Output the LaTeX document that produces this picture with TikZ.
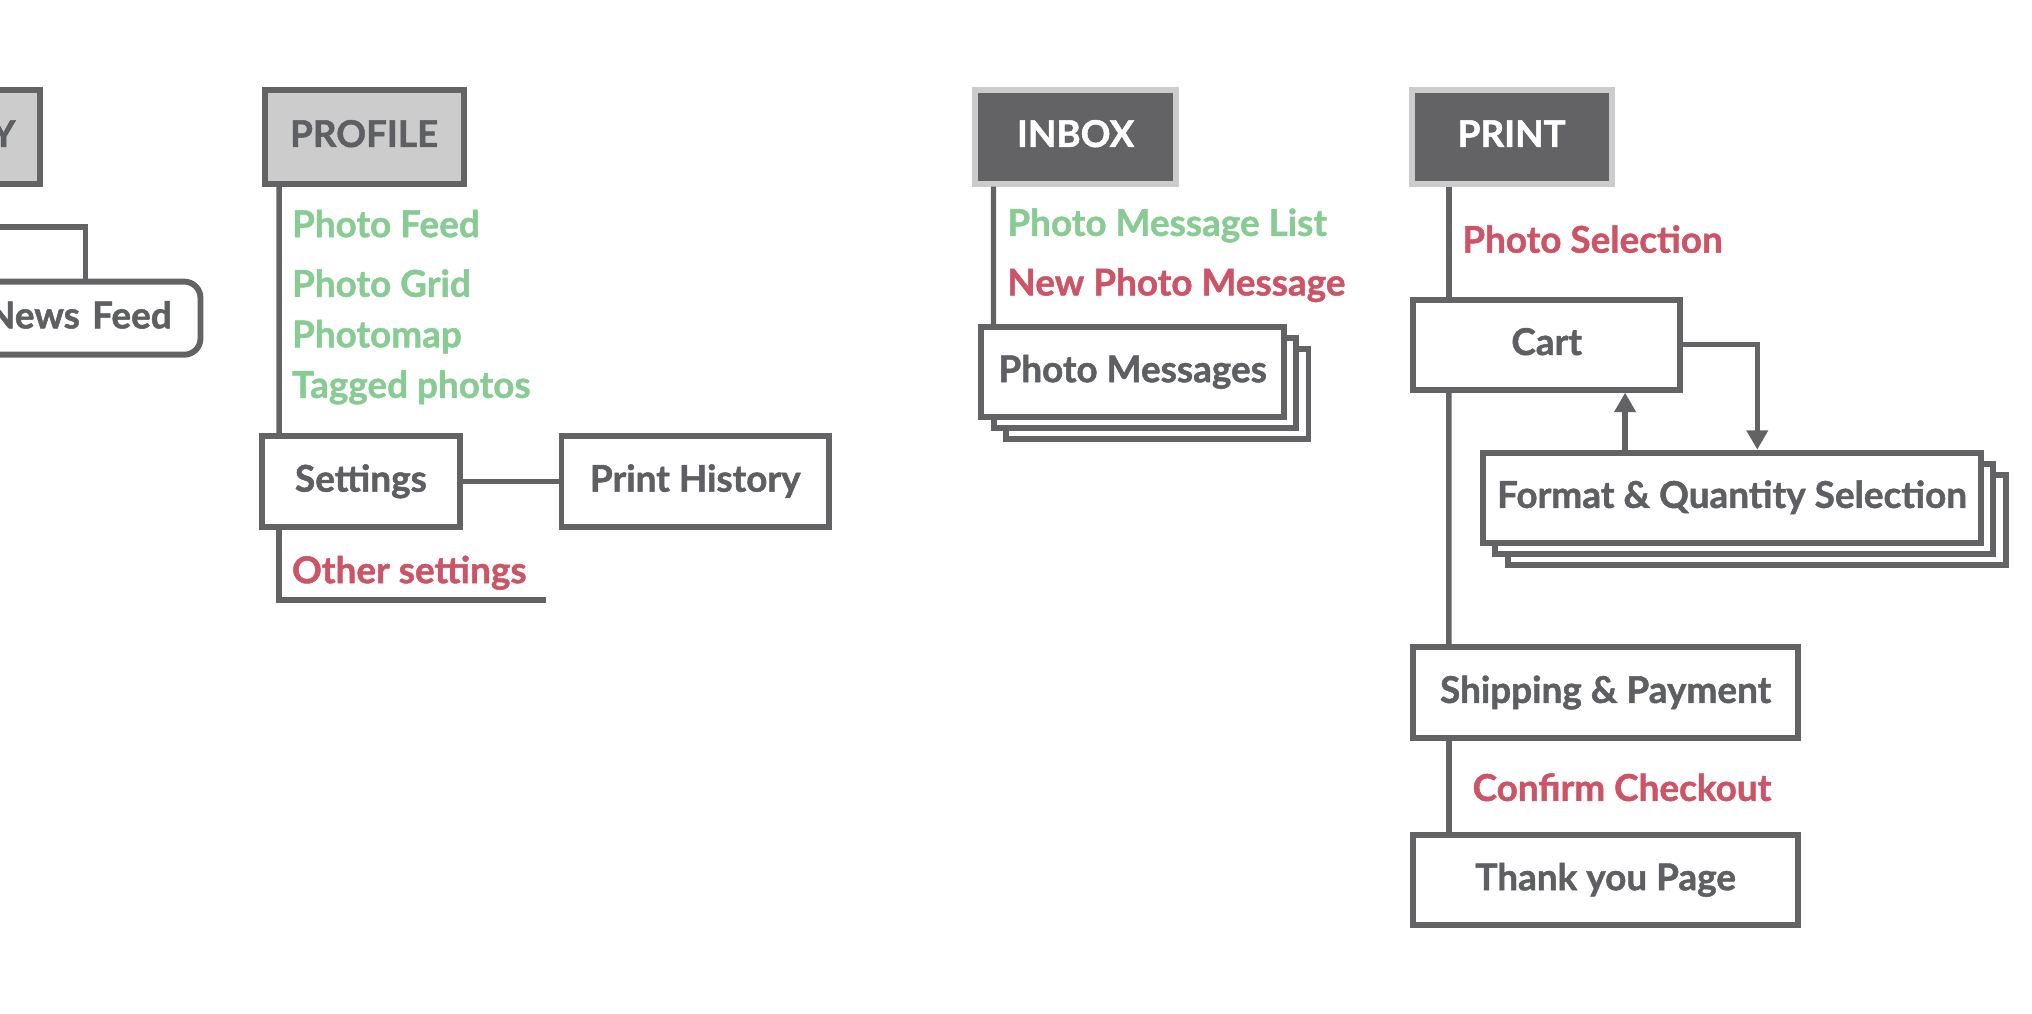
\documentclass[tikz,border=0pt]{standalone}
\usepackage{fontspec}
\setmainfont{Lato}[BoldFeatures={FakeBold=1.3}]
\usetikzlibrary{arrows.meta,shadows}

\definecolor{linegray}{HTML}{636366}
\definecolor{textgray}{HTML}{5E5F62}
\definecolor{framegray}{HTML}{CCCCCC}
\definecolor{okgreen}{HTML}{88CC94}
\definecolor{todored}{HTML}{CC5466}

\tikzset{
  titlebox/.style={draw=linegray,line width=2.6pt,fill=framegray,text=textgray,
    minimum height=1.448cm,inner sep=0pt,text height=0.9em,text depth=0pt},
  darktitle/.style={titlebox,draw=framegray,fill=linegray,text=white},
  pagebox/.style={draw=linegray,line width=2.6pt,fill=white,text=textgray,
    minimum height=1.388cm,inner sep=0pt,text height=0.9em,text depth=0pt},
  stackbox/.style={pagebox,
    copy shadow={shadow xshift=0.38cm,shadow yshift=-0.34cm,draw=linegray,fill=white,line width=2.6pt},
    copy shadow={shadow xshift=0.19cm,shadow yshift=-0.17cm,draw=linegray,fill=white,line width=2.6pt}},
  link/.style={draw=linegray,line width=2.4pt},
  flow/.style={link,-{Triangle[width=0.32cm,length=0.3cm]}},
  ok/.style={text=okgreen,anchor=base west,inner sep=0pt},
  todo/.style={text=todored,anchor=base west,inner sep=0pt}
}

\begin{document}
\begin{tikzpicture}[font=\fontsize{16.2}{19}\selectfont\bfseries]
\useasboundingbox (0,0) rectangle (31.36,-15.64);
\clip (0,0) rectangle (31.36,-15.64);

% activity (cut off)
\node[titlebox,minimum width=4cm,text width=3.252cm,align=right] (activity) at (-1.386,-2.11) {Y};
\node[pagebox,rounded corners=0.25cm,minimum width=6cm,minimum height=1.128cm,text width=5.112cm,align=right] (newsfeed) at (0.094,-4.91) {News Feed};
\coordinate (actline) at (-0.2,-3.5);
\coordinate (feedjoin) at (1.32,-3.5);
\draw[link] (actline) -- (feedjoin) -- (feedjoin |- newsfeed.north);

% profile
\node[titlebox,minimum width=3.068cm] (profile) at (5.62,-2.11) {PROFILE};
\node[ok] (feed) at (4.5,-3.66) {Photo Feed};
\node[ok] (grid) at (4.5,-4.58) {Photo Grid};
\node[ok] (map) at (4.5,-5.36) {Photomap};
\node[ok] (tagged) at (4.5,-6.14) {Tagged photos};
\node[pagebox,minimum width=3.048cm,minimum height=1.408cm] (settings) at (5.57,-7.43) {Settings};
\node[pagebox,minimum width=4.128cm,minimum height=1.408cm] (printhistory) at (10.73,-7.43) {Print History};
\node[todo] (other) at (4.5,-9.0) {Other settings};
\coordinate (otherend) at (8.42,-9.26);
\draw[link] ([xshift=0.266cm]profile.south west) -- ([xshift=0.306cm]settings.north west);
\draw[link] (settings) -- (printhistory);
\draw[link] ([xshift=0.306cm]settings.south west) |- (otherend);

% inbox
\node[darktitle,minimum width=3.108cm] (inbox) at (16.6,-2.11) {INBOX};
\node[ok] (msglist) at (15.54,-3.64) {Photo Message List};
\node[todo] (newmsg) at (15.54,-4.56) {New Photo Message};
\node[stackbox,minimum width=4.668cm] (photomsgs) at (17.48,-5.74) {Photo Messages};
\draw[link] ([xshift=0.332cm]inbox.south west) -- ([xshift=0.232cm]photomsgs.north west);

% print
\node[darktitle,minimum width=3.088cm] (print) at (23.33,-2.11) {PRINT};
\node[todo] (selection) at (22.56,-3.9) {Photo Selection};
\node[pagebox,minimum width=4.128cm] (cart) at (23.87,-5.32) {Cart};
\node[stackbox,minimum width=7.688cm] (format) at (26.73,-7.68) {Format \& Quantity Selection};
\node[pagebox,minimum width=5.948cm,minimum height=1.408cm] (shipping) at (24.78,-10.69) {Shipping \& Payment};
\node[todo] (confirm) at (22.72,-12.36) {Confirm Checkout};
\node[pagebox,minimum width=5.948cm] (thanks) at (24.78,-13.58) {Thank you Page};
\coordinate (back) at ([xshift=-1.65cm]format.north);
\draw[link] ([xshift=0.62cm]print.south west) -- ([xshift=0.6cm]cart.north west);
\draw[link] ([xshift=0.6cm]cart.south west) -- ([xshift=0.6cm]shipping.north west);
\draw[link] ([xshift=0.6cm]shipping.south west) -- ([xshift=0.6cm]thanks.north west);
\draw[flow] (cart.east) -| ([xshift=0.39cm]format.north);
\draw[flow] (back) -- (back |- cart.south);
\end{tikzpicture}
\end{document}
